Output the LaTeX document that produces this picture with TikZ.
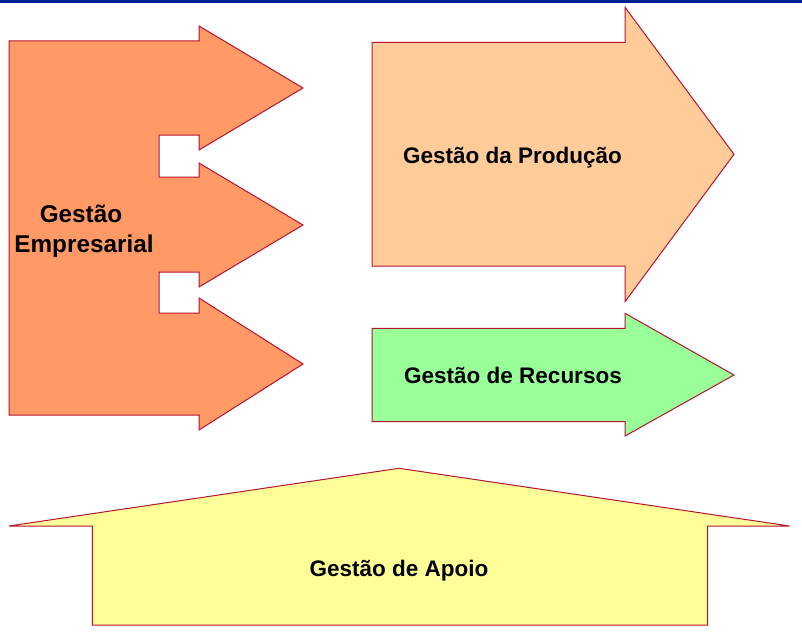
\documentclass[tikz,border=0pt]{standalone}
\usepackage{fontspec}
\setmainfont{Liberation Sans}
\definecolor{navybar}{RGB}{0,35,145}
\definecolor{edgered}{RGB}{180,20,50}
\definecolor{orangefill}{RGB}{255,153,102}
\definecolor{peachfill}{RGB}{255,204,153}
\definecolor{greenfill}{RGB}{153,255,153}
\definecolor{yellowfill}{RGB}{255,255,153}
\begin{document}
\begin{tikzpicture}[x=1pt,y=-1pt,
  shapeline/.style={draw=edgered, line width=1pt, line join=miter},
  lbl/.style={font=\bfseries\fontsize{22.5}{27}\selectfont, text=black, inner sep=0pt, anchor=base},
  biglbl/.style={font=\bfseries\fontsize{24.3}{30}\selectfont, text=black, inner sep=0pt, anchor=base}]
\useasboundingbox (0,0) rectangle (802,634);
\fill[white] (0,0) rectangle (802,634);
\fill[navybar] (0,0) rectangle (802,3.5);
% Gestao Empresarial
\filldraw[shapeline, fill=orangefill]
  (9,41) -- (199,41) -- (199,26) -- (303,88) -- (199,150) -- (199,135)
  -- (159,135) -- (159,177) -- (199,177) -- (199,163) -- (303,225)
  -- (199,287) -- (199,272) -- (159,272) -- (159,313) -- (199,313)
  -- (199,298) -- (303,364) -- (199,430) -- (199,415) -- (9,415) -- cycle;
\node[biglbl] (emp1) at (81,222.7) {Gestão};
\node[biglbl] (emp2) at (84,252.7) {Empresarial};
% Gestao da Producao
\filldraw[shapeline, fill=peachfill]
  (372,42.3) -- (625,42.3) -- (625,7.3) -- (734,154.3) -- (625,301.7)
  -- (625,266) -- (372,266) -- cycle;
\node[lbl] (prod) at (512.5,163) {Gestão da Produção};
% Gestao de Recursos
\filldraw[shapeline, fill=greenfill]
  (372,328.3) -- (625,328.3) -- (625,313.3) -- (734,375) -- (625,436)
  -- (625,421.7) -- (372,421.7) -- cycle;
\node[lbl] (rec) at (513,383.3) {Gestão de Recursos};
% Gestao de Apoio
\filldraw[shapeline, fill=yellowfill]
  (9,526) -- (399,468.3) -- (789.5,526) -- (707.7,526) -- (707.7,625)
  -- (92.3,625) -- (92.3,526) -- cycle;
\node[lbl] (apoio) at (399,576.7) {Gestão de Apoio};
\end{tikzpicture}
\end{document}
